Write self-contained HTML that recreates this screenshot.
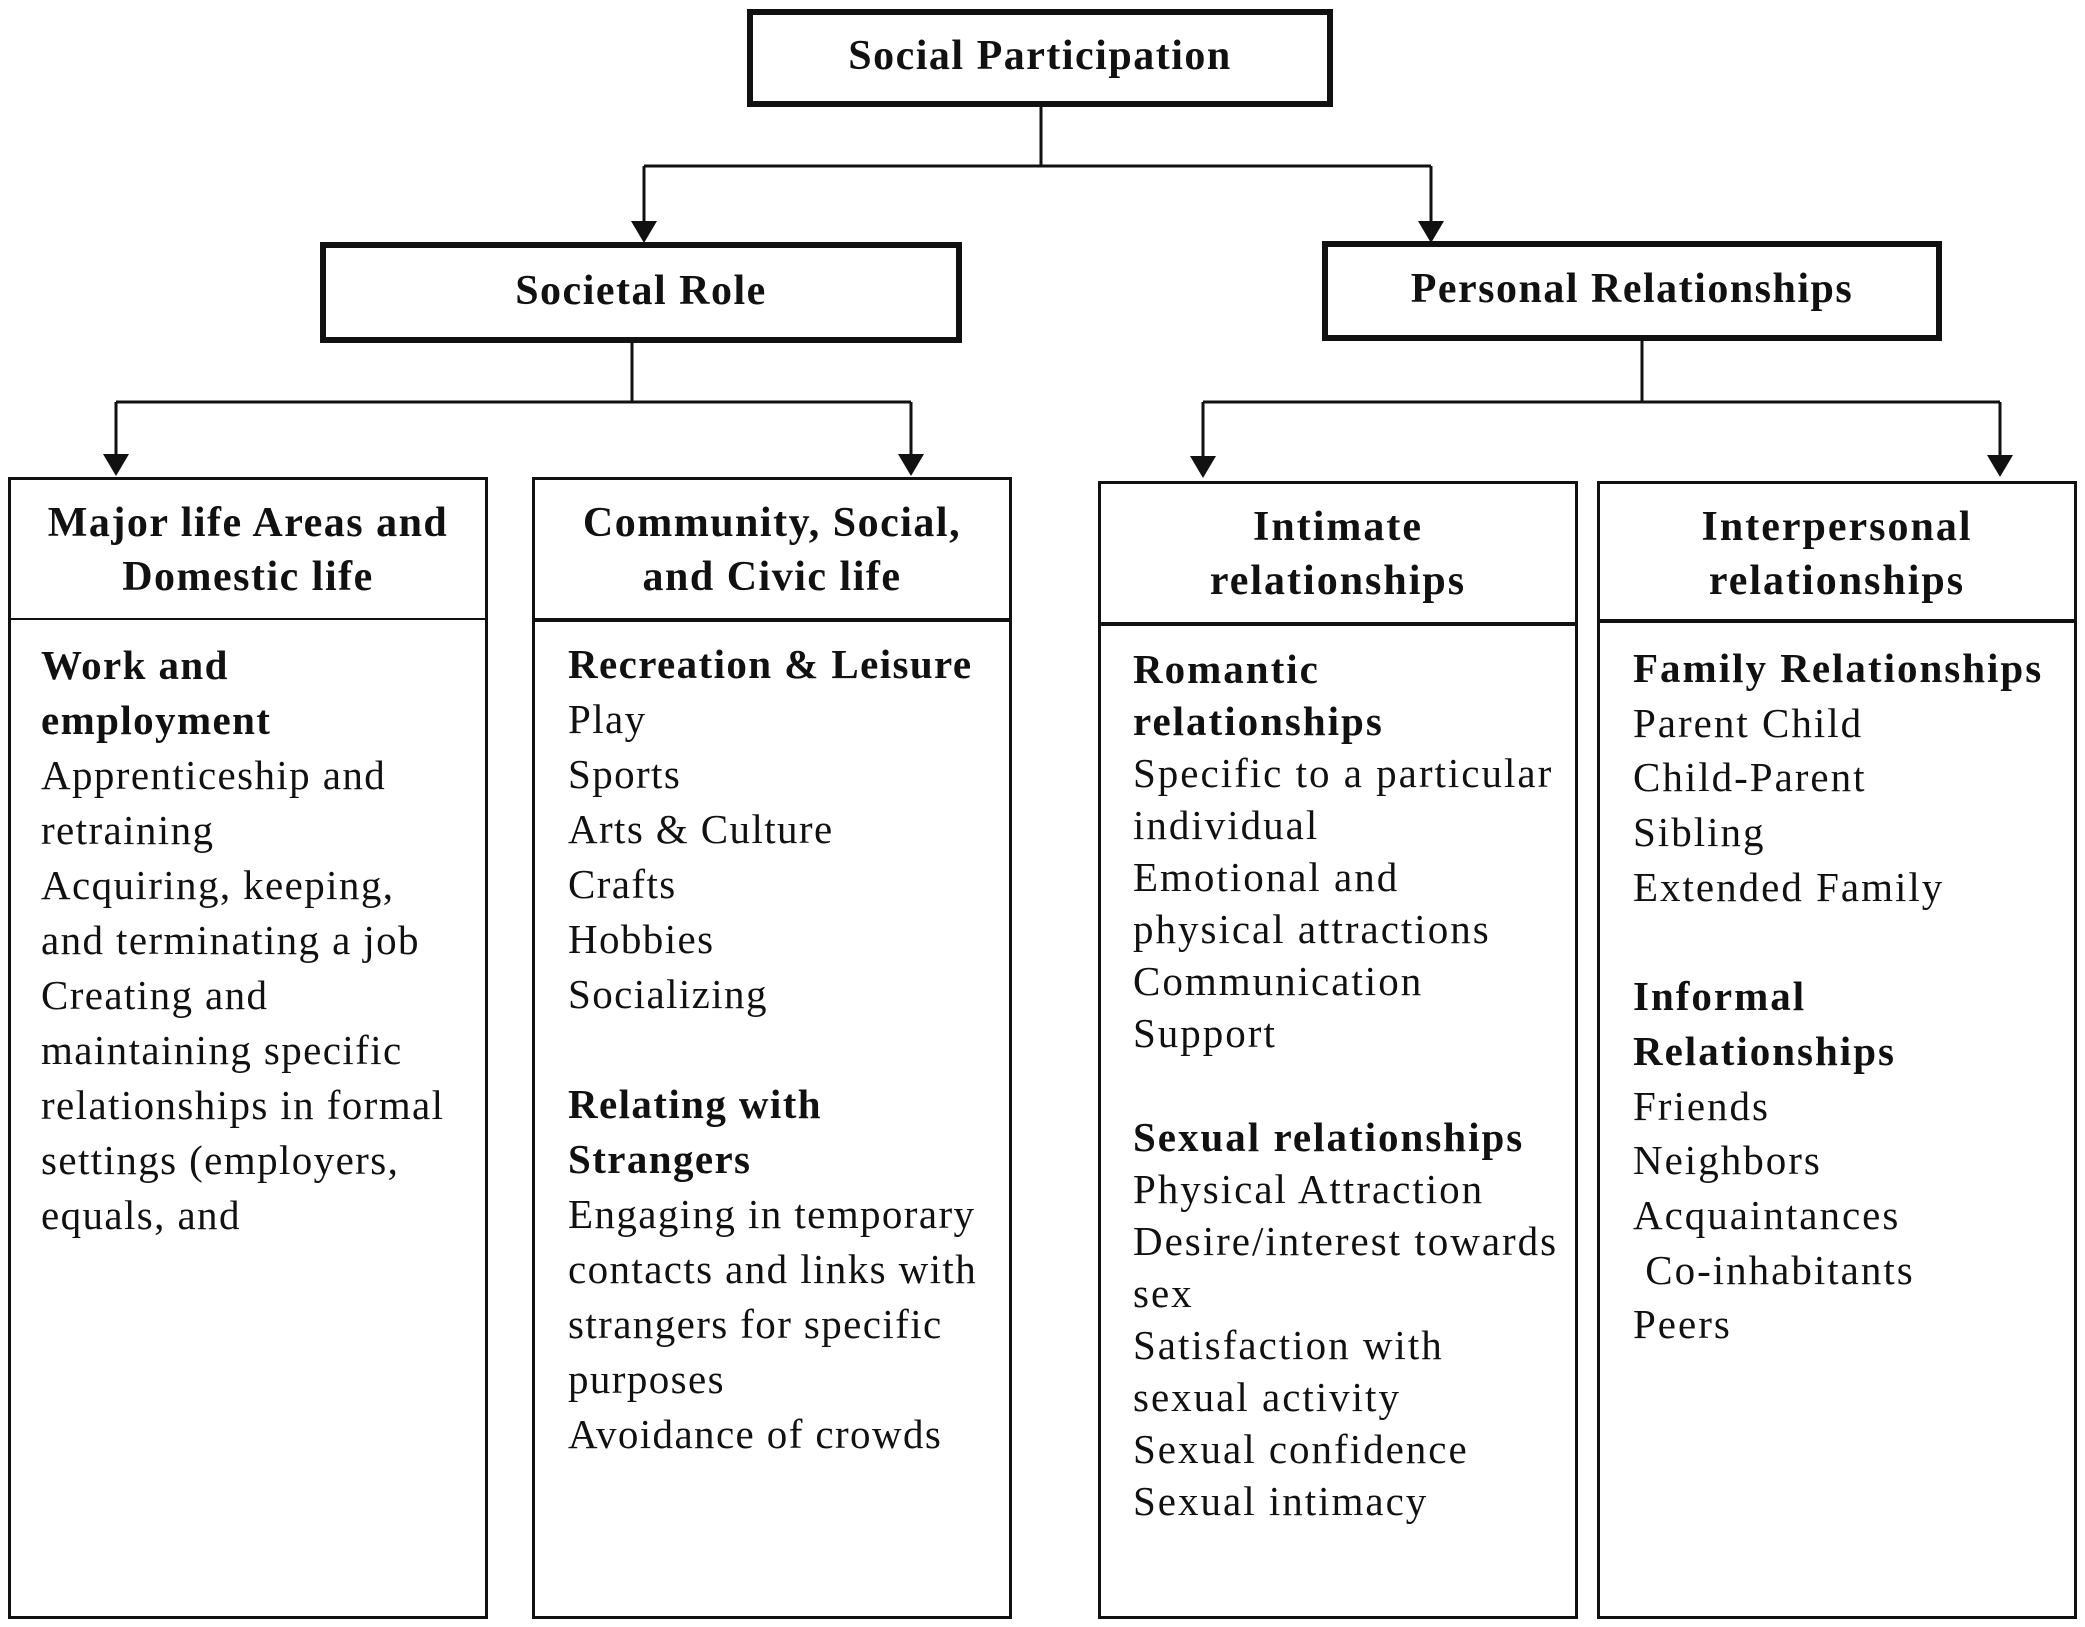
<!DOCTYPE html>
<html><head><style>
body{margin:0;width:2085px;height:1627px;background:#fff;position:relative;overflow:hidden;font-family:"Liberation Serif",serif;color:#111}
.b{position:absolute;box-sizing:border-box;border:3px solid #111}
.t{position:absolute;font-weight:bold;font-size:42px;text-align:center;white-space:nowrap;letter-spacing:1.5px}
.body{position:absolute;font-size:41px;white-space:nowrap;letter-spacing:1.4px}
.w{letter-spacing:2px}
.body b{font-weight:bold}
svg{position:absolute;left:0;top:0}
</style></head><body>
<svg width="2085" height="1627">
<g stroke="#111" stroke-width="3" fill="none">
<path d="M1041 106V166M644 166H1431M644 166V228M1431 166V228"/>
<path d="M632 342V402M116 402H911M116 402V458M911 402V458"/>
<path d="M1642 340V402M1203 402H2000M1203 402V460M2000 402V460"/>
</g>
<g fill="#111">
<path d="M632 243l-13-22h26z" transform="translate(12 0)"/>
<path d="M1431 243l-13-22h26z"/>
<path d="M116 476l-13-22h26z"/>
<path d="M911 476l-13-22h26z"/>
<path d="M1203 478l-13-22h26z"/>
<path d="M2000 477l-13-22h26z"/>
</g>
</svg>
<div class="b" style="left:747px;top:9px;width:586px;height:98px;border-width:6px"></div>
<div class="t" style="left:747px;width:586px;top:32px;line-height:48px">Social Participation</div>
<div class="b" style="left:320px;top:242px;width:642px;height:101px;border-width:6px"></div>
<div class="t" style="left:320px;width:642px;top:267px;line-height:48px">Societal Role</div>
<div class="b" style="left:1322px;top:241px;width:620px;height:100px;border-width:6px"></div>
<div class="t" style="left:1322px;width:620px;top:265px;line-height:48px">Personal Relationships</div>

<div class="b" style="left:8px;top:477px;width:480px;height:1142px"></div>
<div class="b" style="left:8px;top:618px;width:480px;height:0;border-width:2px 0 0 0"></div>
<div class="b" style="left:532px;top:477px;width:480px;height:1142px"></div>
<div class="b" style="left:532px;top:618px;width:480px;height:0;border-width:4px 0 0 0"></div>
<div class="b" style="left:1098px;top:481px;width:480px;height:1138px"></div>
<div class="b" style="left:1098px;top:622px;width:480px;height:0;border-width:4px 0 0 0"></div>
<div class="b" style="left:1597px;top:481px;width:480px;height:1138px"></div>
<div class="b" style="left:1597px;top:619px;width:480px;height:0;border-width:4px 0 0 0"></div>

<div class="t" style="left:8px;width:480px;top:496px;line-height:54px">Major life Areas and<br>Domestic life</div>
<div class="t" style="left:532px;width:480px;top:496px;line-height:54px">Community, Social,<br>and Civic life</div>
<div class="t w" style="left:1098px;width:480px;top:500px;line-height:54px">Intimate<br>relationships</div>
<div class="t w" style="left:1597px;width:480px;top:500px;line-height:54px">Interpersonal<br>relationships</div>

<div class="body" style="left:41px;top:638px;line-height:55px"><b>Work and</b><br><b>employment</b><br>Apprenticeship and<br>retraining<br>Acquiring, keeping,<br>and terminating a job<br>Creating and<br>maintaining specific<br>relationships in formal<br>settings (employers,<br>equals, and</div>
<div class="body" style="left:568px;top:637px;line-height:55px"><b>Recreation &amp; Leisure</b><br>Play<br>Sports<br>Arts &amp; Culture<br>Crafts<br>Hobbies<br>Socializing<br><br><b>Relating with</b><br><b>Strangers</b><br>Engaging in temporary<br>contacts and links with<br>strangers for specific<br>purposes<br>Avoidance of crowds</div>
<div class="body w" style="left:1133px;top:643px;line-height:52px"><b>Romantic</b><br><b>relationships</b><br>Specific to a particular<br>individual<br>Emotional and<br>physical attractions<br>Communication<br>Support<br><br><b>Sexual relationships</b><br>Physical Attraction<br>Desire/interest towards<br>sex<br>Satisfaction with<br>sexual activity<br>Sexual confidence<br>Sexual intimacy</div>
<div class="body w" style="left:1633px;top:641px;line-height:54.7px"><b>Family Relationships</b><br>Parent Child<br>Child-Parent<br>Sibling<br>Extended Family<br><br><b>Informal</b><br><b>Relationships</b><br>Friends<br>Neighbors<br>Acquaintances<br>&nbsp;Co-inhabitants<br>Peers</div>
</body></html>
